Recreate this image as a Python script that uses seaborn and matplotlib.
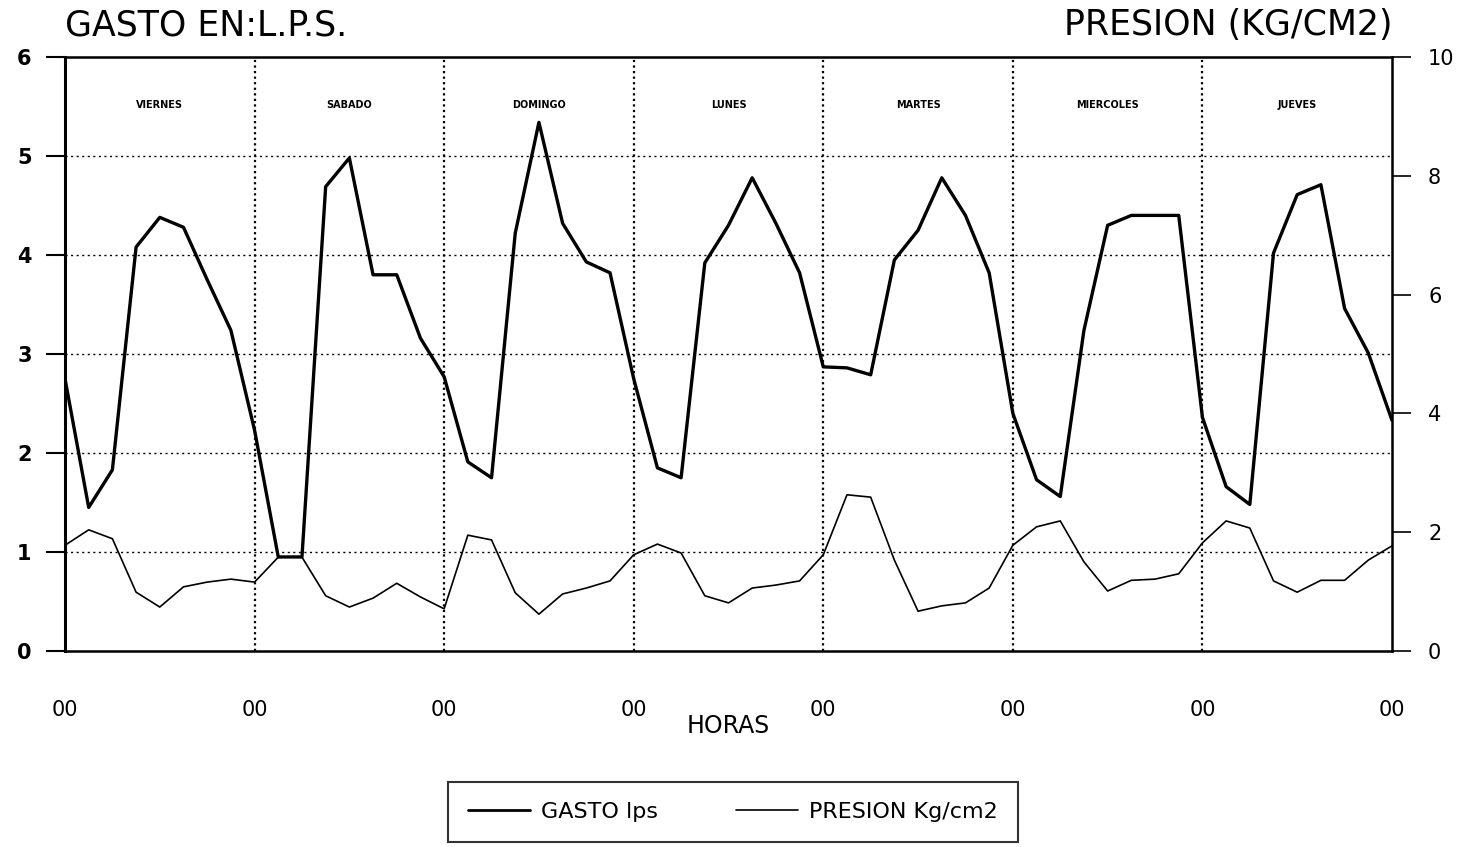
import numpy as np
import pandas as pd
import seaborn as sns
import matplotlib
matplotlib.use('Agg')
import matplotlib.pyplot as plt
from matplotlib.lines import Line2D

# lecturas cada 3 horas, de viernes 00 a jueves 24
horas = list(range(0, 169, 3))
gasto = [2.75, 1.45, 1.83, 4.08, 4.38, 4.28, 3.75, 3.24, 2.23, 0.95,
         0.95, 4.69, 4.98, 3.80, 3.80, 3.16, 2.77, 1.91, 1.75, 4.22,
         5.34, 4.32, 3.93, 3.82, 2.75, 1.85, 1.75, 3.92, 4.30, 4.78,
         4.32, 3.82, 2.87, 2.86, 2.79, 3.95, 4.25, 4.78, 4.40, 3.82,
         2.40, 1.73, 1.56, 3.24, 4.30, 4.40, 4.40, 4.40, 2.36, 1.66,
         1.48, 4.02, 4.61, 4.71, 3.46, 3.01, 2.33]
presion = [1.78, 2.04, 1.89, 0.99, 0.74, 1.08, 1.16, 1.21, 1.16, 1.58,
           1.58, 0.93, 0.74, 0.89, 1.14, 0.91, 0.71, 1.95, 1.87, 0.98,
           0.62, 0.96, 1.06, 1.18, 1.62, 1.80, 1.65, 0.93, 0.81, 1.06,
           1.11, 1.18, 1.62, 2.63, 2.59, 1.53, 0.67, 0.76, 0.81, 1.06,
           1.78, 2.09, 2.19, 1.50, 1.01, 1.19, 1.21, 1.30, 1.82, 2.19,
           2.07, 1.18, 0.99, 1.19, 1.19, 1.53, 1.77]
dias = ['VIERNES', 'SABADO', 'DOMINGO', 'LUNES', 'MARTES', 'MIERCOLES', 'JUEVES']

df = pd.DataFrame({'horas': horas, 'gasto': gasto, 'presion': presion})

sns.set_style('white')
plt.rcParams['font.family'] = ['DejaVu Sans']
plt.rcParams['text.color'] = 'black'
plt.rcParams['axes.labelcolor'] = 'black'
plt.rcParams['xtick.color'] = 'black'
plt.rcParams['ytick.color'] = 'black'

fig = plt.figure(figsize=(14.62, 8.47), dpi=100)
ax = fig.add_axes([65 / 1462, 1 - 651 / 847, (1392 - 65) / 1462, (651 - 57) / 847])
ax2 = ax.twinx()

sns.lineplot(data=df, x='horas', y='gasto', ax=ax, color='black', lw=2.4, legend=False)
sns.lineplot(data=df, x='horas', y='presion', ax=ax2, color='black', lw=1.2, legend=False)

ax.set_xlim(0, 168)
ax.set_ylim(0, 6)
ax2.set_ylim(0, 10)

ax.set_xticks(range(0, 169, 24))
ax.set_xticklabels(['00'] * 8)
ax.set_xticks(range(0, 169, 3), minor=True)
ax.tick_params(axis='x', which='major', direction='inout', length=26, width=1.8,
               labelsize=15, pad=22)
ax.tick_params(axis='x', which='minor', direction='out', length=13, width=1.6)
ax.set_yticks(range(0, 7))
ax.tick_params(axis='y', which='major', direction='out', length=14, width=1.5,
               labelsize=15, pad=10)
ax2.set_yticks(range(0, 11, 2))
ax2.tick_params(axis='y', which='major', direction='out', length=14, width=1.2,
                labelsize=15, pad=12)
for lab in ax.get_yticklabels():
    lab.set_fontweight('bold')

for v in range(1, 6):
    ax.axhline(v, color='black', lw=1.0, ls=(0, (1.5, 2.5)), zorder=0)
for h in range(24, 168, 24):
    ax.axvline(h, color='black', lw=1.6, ls=(0, (1, 1.5)), zorder=0)

for s in ['left', 'right', 'top', 'bottom']:
    ax.spines[s].set_color('black')
    ax2.spines[s].set_color('black')
ax.spines['left'].set_linewidth(2.2)
ax2.spines['right'].set_linewidth(1.8)
ax.spines['top'].set_linewidth(1.8)
ax.spines['bottom'].set_linewidth(1.8)

ax.set_xlabel('HORAS', fontsize=17, labelpad=-4)
ax.set_ylabel('')
ax2.set_ylabel('')

for k, d in enumerate(dias):
    ax.text(24 * k + 12, 5.52, d, ha='center', va='center', fontsize=7,
            fontweight='bold')

fig.text(65 / 1462, 1 - 25 / 847, 'GASTO EN:L.P.S.', fontsize=25, ha='left', va='center')
fig.text(1392 / 1462, 1 - 25 / 847, 'PRESION (KG/CM2)', fontsize=25, ha='right', va='center')

handles = [Line2D([], [], color='black', lw=2.0), Line2D([], [], color='black', lw=1.2)]
leg = fig.legend(handles, ['GASTO lps', 'PRESION Kg/cm2'], loc='center',
                 bbox_to_anchor=(733 / 1462, 1 - 812 / 847), ncol=2, fontsize=16,
                 frameon=True, fancybox=False, edgecolor='black', handlelength=2.8,
                 columnspacing=3.5, handletextpad=0.5, borderpad=0.9, borderaxespad=0)
leg.get_frame().set_linewidth(1.5)

fig.savefig('out.png', dpi=100)
